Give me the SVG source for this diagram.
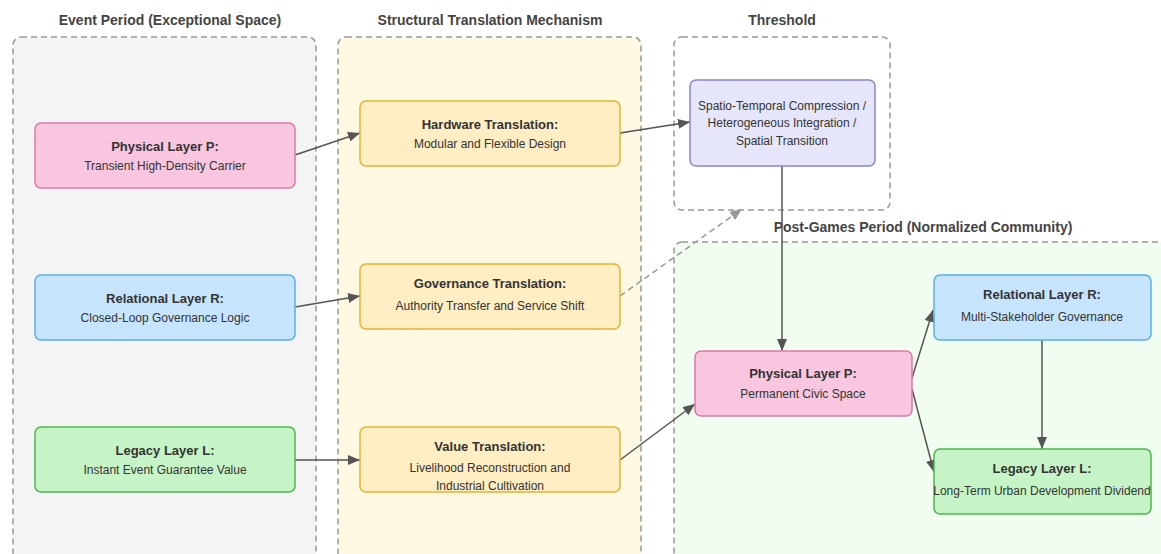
<svg xmlns="http://www.w3.org/2000/svg" width="1161" height="554" viewBox="0 0 1161 554">
<style>
text{font-family:"Liberation Sans",Arial,sans-serif;fill:#333}
.ct{font-size:14px;font-weight:bold;fill:#444;text-anchor:middle}
.t{font-size:13px;font-weight:bold;text-anchor:middle}
.s{font-size:12px;text-anchor:middle}
.cl{stroke:#999;stroke-width:1.5;stroke-dasharray:6 4}
.e{stroke:#555;stroke-width:1.5;fill:none}
.d{stroke:#999;stroke-width:1.5;fill:none;stroke-dasharray:6 4}
.pk{fill:#f8c6de;stroke:#de78a8;stroke-width:1.5}
.bl{fill:#c6e4fc;stroke:#5aaee8;stroke-width:1.5}
.gr{fill:#c6f4c6;stroke:#4db54d;stroke-width:1.5}
.yl{fill:#ffedc4;stroke:#e6b232;stroke-width:1.5}
.pu{fill:#e6e6fa;stroke:#8b82d2;stroke-width:1.5}
</style>
<defs>
<marker id="a" viewBox="0 0 12 10" refX="12" refY="5" markerWidth="12" markerHeight="10" markerUnits="userSpaceOnUse" orient="auto"><path d="M0,0L12,5L0,10z" fill="#555"/></marker>
<marker id="ad" viewBox="0 0 12 10" refX="12" refY="5" markerWidth="12" markerHeight="10" markerUnits="userSpaceOnUse" orient="auto"><path d="M0,0L12,5L0,10z" fill="#999"/></marker>
</defs>
<rect width="1161" height="554" fill="#fff"/>
<g id="cluster-event">
<rect class="cl" x="13" y="37" width="303" height="530" rx="8" fill="#f4f4f4"/>
<text class="ct" x="170" y="25">Event Period (Exceptional Space)</text>
</g>
<g id="cluster-translation">
<rect class="cl" x="338" y="37" width="303" height="530" rx="8" fill="#fff8e3"/>
<text class="ct" x="490" y="25">Structural Translation Mechanism</text>
</g>
<g id="cluster-threshold">
<rect class="cl" x="674" y="37" width="216" height="173" rx="8" fill="#fff"/>
<text class="ct" x="782" y="25">Threshold</text>
</g>
<g id="cluster-post">
<rect class="cl" x="674" y="242" width="520" height="330" rx="8" fill="#f0fdf0"/>
<text class="ct" x="923" y="232">Post-Games Period (Normalized Community)</text>
</g>
<g id="connectors">
<line class="e" x1="295" y1="155" x2="360" y2="133" marker-end="url(#a)"/>
<line class="e" x1="295" y1="307" x2="360" y2="296" marker-end="url(#a)"/>
<line class="e" x1="295" y1="460" x2="360" y2="460" marker-end="url(#a)"/>
<line class="e" x1="620" y1="133" x2="690" y2="122" marker-end="url(#a)"/>
<line class="d" x1="620" y1="296" x2="742" y2="209" marker-end="url(#ad)"/>
<line class="e" x1="620" y1="460" x2="695" y2="404" marker-end="url(#a)"/>
<line class="e" x1="782" y1="166" x2="782" y2="351" marker-end="url(#a)"/>
<line class="e" x1="912" y1="378" x2="933" y2="310" marker-end="url(#a)"/>
<line class="e" x1="912" y1="389" x2="934" y2="472" marker-end="url(#a)"/>
<line class="e" x1="1042" y1="340" x2="1042" y2="449" marker-end="url(#a)"/>
</g>
<g id="n-p1">
<rect class="pk" x="35" y="123" width="260" height="65" rx="6"/>
<text class="t" x="165" y="151">Physical Layer P:</text>
<text class="s" x="165" y="170">Transient High-Density Carrier</text>
</g>
<g id="n-r1">
<rect class="bl" x="35" y="275" width="260" height="65" rx="6"/>
<text class="t" x="165" y="303">Relational Layer R:</text>
<text class="s" x="165" y="322">Closed-Loop Governance Logic</text>
</g>
<g id="n-l1">
<rect class="gr" x="35" y="427" width="260" height="65" rx="6"/>
<text class="t" x="165" y="455">Legacy Layer L:</text>
<text class="s" x="165" y="474">Instant Event Guarantee Value</text>
</g>
<g id="n-hw">
<rect class="yl" x="360" y="101" width="260" height="65" rx="6"/>
<text class="t" x="490" y="129">Hardware Translation:</text>
<text class="s" x="490" y="148">Modular and Flexible Design</text>
</g>
<g id="n-gov">
<rect class="yl" x="360" y="264" width="260" height="65" rx="6"/>
<text class="t" x="490" y="288">Governance Translation:</text>
<text class="s" x="490" y="310">Authority Transfer and Service Shift</text>
</g>
<g id="n-val">
<rect class="yl" x="360" y="427" width="260" height="65" rx="6"/>
<text class="t" x="490" y="451">Value Translation:</text>
<text class="s" x="490" y="472">Livelihood Reconstruction and</text>
<text class="s" x="490" y="490">Industrial Cultivation</text>
</g>
<g id="n-threshold">
<rect class="pu" x="690" y="80" width="185" height="86" rx="6"/>
<text class="s" x="782" y="110">Spatio-Temporal Compression /</text>
<text class="s" x="782" y="127">Heterogeneous Integration /</text>
<text class="s" x="782" y="145">Spatial Transition</text>
</g>
<g id="n-p2">
<rect class="pk" x="695" y="351" width="217" height="65" rx="6"/>
<text class="t" x="803" y="378">Physical Layer P:</text>
<text class="s" x="803" y="398">Permanent Civic Space</text>
</g>
<g id="n-r2">
<rect class="bl" x="934" y="275" width="217" height="65" rx="6"/>
<text class="t" x="1042" y="299">Relational Layer R:</text>
<text class="s" x="1042" y="321">Multi-Stakeholder Governance</text>
</g>
<g id="n-l2">
<rect class="gr" x="934" y="449" width="217" height="65" rx="6"/>
<text class="t" x="1042" y="473">Legacy Layer L:</text>
<text class="s" x="1042" y="495">Long-Term Urban Development Dividend</text>
</g>
</svg>
